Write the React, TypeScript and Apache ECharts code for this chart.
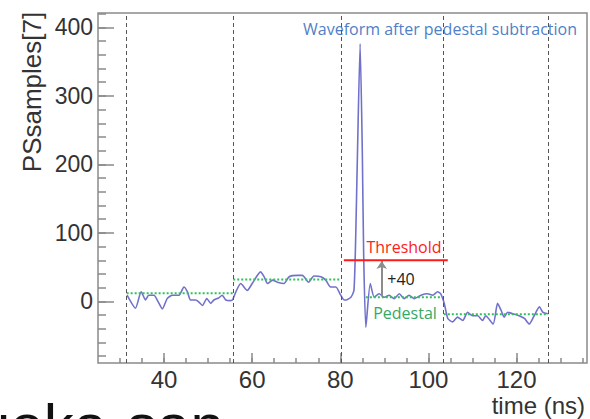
import React, { useEffect, useRef } from "react";
import * as echarts from "echarts";

// Waveform samples (time in ns, PSsamples[7])
const waveTime = [
  31.6, 33.5, 34.8, 35.8, 36.5, 37.7, 38.6, 39.6, 40.7, 41.9, 43.4, 44.5, 45.3, 46.0, 47.2, 47.9,
  48.7, 49.7, 50.6, 51.3, 52.4, 53.2, 54.0, 55.1, 55.6, 56.3, 57.4, 58.9, 60.0, 61.9, 62.7, 63.5,
  64.6, 65.7, 67.2, 68.4, 70.3, 71.4, 72.8, 74.0, 75.6, 76.7, 77.8, 79.0, 80.1, 80.9, 81.3, 82.4,
  83.1, 83.5, 83.9, 84.5, 85.0, 85.3, 85.8, 86.8, 87.7, 88.8, 90.0, 91.1, 92.2, 93.4, 94.5, 95.6,
  96.8, 98.3, 99.8, 101.0, 102.1, 102.8, 103.6, 104.4, 105.5, 106.6, 107.8, 108.9, 110.0, 111.2,
  112.3, 113.0, 114.7, 115.7, 116.5, 117.2, 118.0, 119.1, 120.6, 121.8, 122.9, 124.0, 125.2, 126.0,
  127.1,
];
const waveValue = [
  9, -10, 14, 2, 9, 9, 0, -11, 4, 9, 9, 21, 14, 2, 2, -1,
  -6, 4, -3, 2, 5, 9, 2, 1, 3, 14, 26, 16, 26, 43, 36, 26,
  31, 28, 26, 36, 38, 38, 28, 37, 36, 31, 21, 21, 9, 2, 2, 6,
  16, 95, 217, 376, 217, 70, -38, 26, 6, 11, 6, 9, 4, 11, 4, 9,
  4, 9, 11, 9, 14, 11, -3, -25, -30, -23, -28, -16, -21, -21,
  -28, -21, -33, -3, -13, -23, -16, -18, -21, -25, -33, -21, -8, -16,
  -18,
];

// Pedestal segments (green dotted)
const pedestalStart = [31.5, 55.7, 85.8, 103.5];
const pedestalEnd = [55.7, 80.0, 103.0, 127.2];
const pedestalLevel = [12, 32, 6, -19];

// Window edges (dashed vertical lines)
const windowEdges = [31.5, 55.7, 80.3, 103.4, 127.2];

// Threshold line and arrow
const thresholdStart = 80.8;
const thresholdEnd = 104.4;
const thresholdLevel = 60;
const arrowTime = 89.4;
const arrowFrom = 7;

// Axis ticks
const xTickLabels = [40, 60, 80, 100, 120];
const xMinorTicks = [30, 35, 40, 45, 50, 55, 60, 65, 70, 75, 80, 85, 90, 95, 100, 105, 110, 115, 120, 125, 130, 135];
const yTickLabels = [0, 100, 200, 300, 400];
const yMinorTicks = [-80, -60, -40, -20, 0, 20, 40, 60, 80, 100, 120, 140, 160, 180, 200, 220, 240, 260, 280, 300, 320, 340, 360, 380, 400, 420];

const AXIS_FONT = '"Liberation Sans", Arial, sans-serif';
const NOTE_FONT = '"Open Sans", "Noto Sans", sans-serif';
const FRAME = "#8a8a8a";

export default function App() {
  const ref = useRef<HTMLDivElement>(null);

  useEffect(() => {
    if (!ref.current) return;
    const chart = echarts.init(ref.current, undefined, { renderer: "svg" });

    const pedestalSeries = pedestalStart.map((s, i) => ({
      type: "line",
      xAxisIndex: 0,
      yAxisIndex: 0,
      data: [
        [s, pedestalLevel[i]],
        [pedestalEnd[i], pedestalLevel[i]],
      ],
      showSymbol: false,
      symbol: "none",
      lineStyle: { color: "#2fc25b", width: 2, type: [2, 2] },
      z: 4,
    }));

    const option: any = {
      animation: false,
      grid: {
        left: 98,
        right: 3,
        top: 13,
        bottom: 56,
        show: true,
        borderColor: FRAME,
        borderWidth: 1.5,
        backgroundColor: "transparent",
      },
      xAxis: [
        {
          type: "value",
          min: 25,
          max: 136,
          position: "bottom",
          axisLine: { show: false, onZero: false },
          splitLine: { show: false },
          axisTick: {
            show: true,
            inside: true,
            length: 10,
            customValues: xTickLabels,
            lineStyle: { color: FRAME, width: 1.5 },
          },
          axisLabel: {
            customValues: xTickLabels,
            fontSize: 24,
            color: "#333",
            margin: 4,
            fontFamily: AXIS_FONT,
          },
        },
        {
          type: "value",
          min: 25,
          max: 136,
          position: "bottom",
          axisLine: { show: false, onZero: false },
          splitLine: { show: false },
          axisLabel: { show: false },
          axisTick: {
            show: true,
            inside: true,
            length: 5,
            customValues: xMinorTicks,
            lineStyle: { color: FRAME, width: 1.5 },
          },
        },
      ],
      yAxis: [
        {
          type: "value",
          min: -90,
          max: 421,
          position: "left",
          axisLine: { show: false, onZero: false },
          splitLine: { show: false },
          axisTick: {
            show: true,
            inside: true,
            length: 16,
            customValues: yTickLabels,
            lineStyle: { color: FRAME, width: 1.5 },
          },
          axisLabel: {
            customValues: yTickLabels,
            fontSize: 23,
            color: "#333",
            margin: 5,
            fontFamily: AXIS_FONT,
          },
        },
        {
          type: "value",
          min: -90,
          max: 421,
          position: "left",
          axisLine: { show: false, onZero: false },
          splitLine: { show: false },
          axisLabel: { show: false },
          axisTick: {
            show: true,
            inside: true,
            length: 8,
            customValues: yMinorTicks,
            lineStyle: { color: FRAME, width: 1.5 },
          },
        },
      ],
      series: [
        {
          type: "line",
          xAxisIndex: 0,
          yAxisIndex: 0,
          data: waveTime.map((t, i) => [t, waveValue[i]]),
          showSymbol: false,
          symbol: "none",
          smooth: 0.2,
          lineStyle: { color: "#7171cb", width: 1.6 },
          z: 3,
          markLine: {
            silent: true,
            symbol: ["none", "none"],
            label: { show: false },
            lineStyle: { color: "#555", width: 1, type: [4, 3] },
            data: windowEdges.map((x) => ({ xAxis: x })),
          },
        },
        ...pedestalSeries,
        {
          type: "line",
          xAxisIndex: 0,
          yAxisIndex: 0,
          data: [
            [thresholdStart, thresholdLevel],
            [thresholdEnd, thresholdLevel],
          ],
          showSymbol: false,
          symbol: "none",
          lineStyle: { color: "#ff1a1a", width: 2 },
          z: 5,
          markLine: {
            silent: true,
            symbol: ["none", "arrow"],
            symbolSize: 8,
            label: { show: false },
            lineStyle: { color: "#8c8c8c", width: 2, type: "solid" },
            data: [
              [
                { coord: [arrowTime, arrowFrom] },
                { coord: [arrowTime, thresholdLevel - 1] },
              ],
            ],
          },
        },
      ],
      graphic: [
        {
          type: "text",
          x: 32,
          y: 92,
          rotation: Math.PI / 2,
          style: {
            text: "PSsamples[7]",
            font: `26px ${AXIS_FONT}`,
            fill: "#333",
            textAlign: "center",
            textVerticalAlign: "middle",
          },
        },
        {
          type: "text",
          x: 585,
          y: 405,
          style: {
            text: "time (ns)",
            font: `24px ${AXIS_FONT}`,
            fill: "#333",
            textAlign: "right",
            textVerticalAlign: "middle",
          },
        },
        {
          type: "text",
          x: 440,
          y: 29,
          style: {
            text: "Waveform after pedestal subtraction",
            font: `16px ${NOTE_FONT}`,
            fill: "#4f7fc8",
            textAlign: "center",
            textVerticalAlign: "middle",
          },
        },
        {
          type: "text",
          x: 404,
          y: 247,
          style: {
            text: "Threshold",
            font: `16px ${NOTE_FONT}`,
            fill: "#ff2020",
            textAlign: "center",
            textVerticalAlign: "middle",
          },
        },
        {
          type: "text",
          x: 401,
          y: 279,
          style: {
            text: "+40",
            font: `16px ${NOTE_FONT}`,
            fill: "#222",
            textAlign: "center",
            textVerticalAlign: "middle",
          },
        },
        {
          type: "text",
          x: 405,
          y: 313,
          style: {
            text: "Pedestal",
            font: `16px ${NOTE_FONT}`,
            fill: "#33aa66",
            textAlign: "center",
            textVerticalAlign: "middle",
          },
        },
        {
          type: "text",
          x: -23,
          y: 425,
          style: {
            text: "uoka-san",
            font: `60px ${AXIS_FONT}`,
            fill: "#111",
            textAlign: "left",
            textVerticalAlign: "middle",
          },
        },
      ],
    };

    chart.setOption(option);
    return () => chart.dispose();
  }, []);

  return (
    <div
      ref={ref}
      style={{ position: "fixed", left: 0, top: 0, width: 590, height: 419, background: "#fff" }}
    />
  );
}
